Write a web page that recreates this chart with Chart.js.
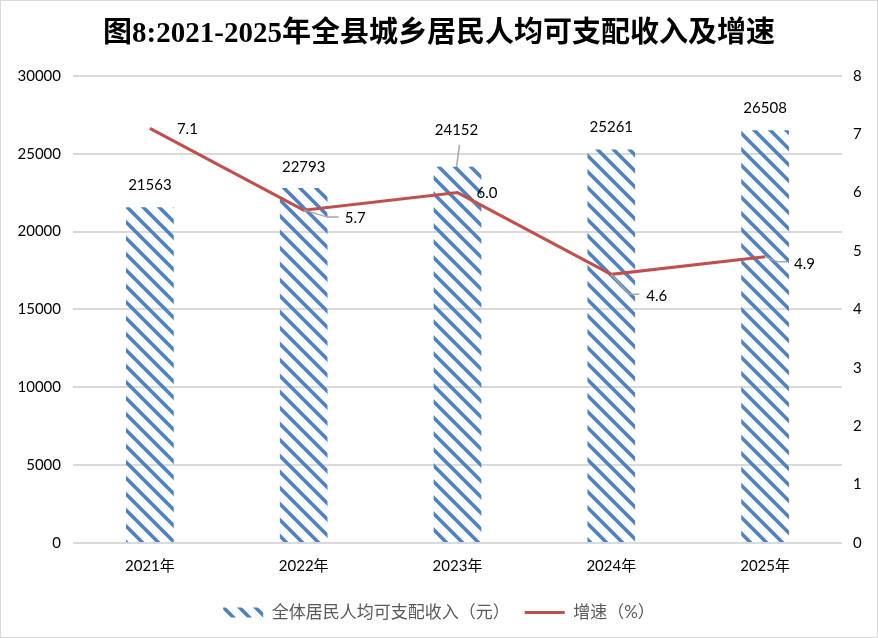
<!DOCTYPE html>
<html lang="zh-CN">
<head>
<meta charset="UTF-8">
<title>图8:2021-2025年全县城乡居民人均可支配收入及增速</title>
<script src="https://cdn.jsdelivr.net/npm/chart.js"></script>
<style>
  body { margin: 0; background: #fff; }
  .box { width: 878px; height: 638px; box-sizing: border-box; border: 1px solid #d9d9d9; }
  canvas { display: block; }
</style>
</head>
<body>
<div class="box"><canvas id="chart" width="876" height="636"></canvas></div>
<script>
// 数据
const years = ['2021年', '2022年', '2023年', '2024年', '2025年'];
const income = [21563, 22793, 24152, 25261, 26508];
const growth = [7.1, 5.7, 6.0, 4.6, 4.9];

const FONT = 'Lato, "Noto Sans CJK SC", sans-serif';

// 斜线填充
function stripes(color) {
  const s = 16;
  const c = document.createElement('canvas');
  c.width = s; c.height = s;
  const g = c.getContext('2d');
  g.strokeStyle = color;
  g.lineWidth = 3.6;
  [-s, 0, s].forEach(o => {
    g.beginPath();
    g.moveTo(o - 2, -2);
    g.lineTo(o + s + 2, s + 2);
    g.stroke();
  });
  return g.createPattern(c, 'repeat');
}

// 数据标签（位置按原图微调）
const labelPlugin = {
  id: 'valueLabels',
  afterDatasetsDraw(chart) {
    const ctx = chart.ctx;
    const places = {
      bar: [
        {dx: 0, dy: -22}, {dx: 0, dy: -21},
        {dx: -1, dy: -37, leader: [[2, -22], [-1, 0]]},
        {dx: 0, dy: -22}, {dx: 0, dy: -22}
      ],
      line: [
        {dx: 27, dy: 1},
        {dx: 41, dy: 8, leader: [[0, 0], [24, 7], [35, 7]]},
        {dx: 19, dy: 1},
        {dx: 35, dy: 22, leader: [[0, 0], [18, 20], [28, 20]]},
        {dx: 29, dy: 7, leader: [[0, 0], [13, 5], [22, 5]]}
      ]
    };
    ctx.save();
    ctx.font = '15px ' + FONT;
    ctx.textBaseline = 'middle';
    chart.data.datasets.forEach((ds, di) => {
      const meta = chart.getDatasetMeta(di);
      meta.data.forEach((el, i) => {
        const p = places[ds.type][i];
        if (p.leader) {
          ctx.strokeStyle = '#a6a6a6';
          ctx.lineWidth = 1.5;
          ctx.beginPath();
          p.leader.forEach((q, k) => {
            if (k === 0) ctx.moveTo(el.x + q[0], el.y + q[1]);
            else ctx.lineTo(el.x + q[0], el.y + q[1]);
          });
          ctx.stroke();
        }
        const v = ds.data[i];
        ctx.fillStyle = '#000';
        ctx.textAlign = ds.type === 'bar' ? 'center' : 'left';
        ctx.fillText(ds.type === 'bar' ? String(v) : v.toFixed(1), el.x + p.dx, el.y + p.dy);
      });
    });
    ctx.restore();
  }
};

const ctx = document.getElementById('chart').getContext('2d');
new Chart(ctx, {
  data: {
    labels: years,
    datasets: [
      {
        type: 'bar',
        label: '全体居民人均可支配收入（元）',
        data: income,
        yAxisID: 'y',
        backgroundColor: stripes('#4f81bd'),
        borderWidth: 0,
        categoryPercentage: 1,
        barPercentage: 0.31,
        pointStyle: 'rect',
        order: 1
      },
      {
        type: 'line',
        label: '增速（%）',
        data: growth,
        yAxisID: 'y1',
        borderColor: '#c0504d',
        backgroundColor: '#c0504d',
        borderWidth: 3,
        pointRadius: 0,
        pointStyle: 'line',
        tension: 0,
        order: 0
      }
    ]
  },
  options: {
    responsive: false,
    animation: false,
    layout: { padding: { left: 0, right: 0, bottom: 6 } },
    plugins: {
      title: {
        display: true,
        text: '图8:2021-2025年全县城乡居民人均可支配收入及增速',
        color: '#000',
        font: { size: 29, weight: 'bold', family: '"Liberation Serif", "Noto Sans CJK SC", serif' },
        padding: { top: 16, bottom: 24 }
      },
      legend: {
        position: 'bottom',
        labels: {
          usePointStyle: true,
          pointStyleWidth: 40,
          boxHeight: 10,
          padding: 15,
          color: '#595959',
          font: { size: 17, family: FONT },
          sort: (a, b) => a.datasetIndex - b.datasetIndex
        }
      },
      tooltip: { enabled: false }
    },
    scales: {
      x: {
        grid: { display: false, drawTicks: false },
        border: { display: false },
        ticks: { color: '#000', font: { size: 15, family: FONT }, padding: 14 }
      },
      y: {
        position: 'left',
        min: 0, max: 30000,
        ticks: { stepSize: 5000, color: '#000', font: { size: 15, family: FONT }, padding: 12,
                 callback: v => String(v) },
        grid: { color: '#d9d9d9', lineWidth: 2, drawTicks: false },
        border: { display: false },
        afterFit(s) { s.width = 72; }
      },
      y1: {
        position: 'right',
        min: 0, max: 8,
        ticks: { stepSize: 1, color: '#000', font: { size: 15, family: FONT }, padding: 11 },
        grid: { display: false, drawTicks: false },
        border: { display: false },
        afterFit(s) { s.width = 35; }
      }
    }
  },
  plugins: [labelPlugin]
});
</script>
</body>
</html>
